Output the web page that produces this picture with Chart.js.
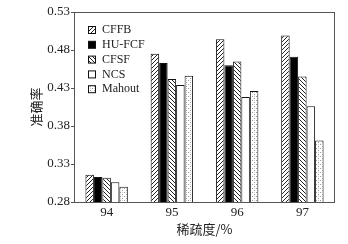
<!DOCTYPE html>
<html>
<head>
<meta charset="utf-8">
<script src="https://cdn.jsdelivr.net/npm/chart.js@4"></script>
<style>
  html, body { margin: 0; padding: 0; background: #fff; }
  #wrap { width: 348px; height: 244px; }
</style>
</head>
<body>
<div id="wrap"><canvas id="chart" width="348" height="244"></canvas></div>
<script>
const categories = ['94', '95', '96', '97'];
const seriesNames = ['CFFB', 'HU-FCF', 'CFSF', 'NCS', 'Mahout'];
const cffb = [0.316, 0.475, 0.494, 0.499];
const hufcf = [0.313, 0.463, 0.460, 0.471];
const cfsf = [0.312, 0.442, 0.465, 0.445];
const ncs = [0.306, 0.434, 0.418, 0.406];
const mahout = [0.300, 0.446, 0.426, 0.361];
const yTicks = [0.28, 0.33, 0.38, 0.43, 0.48, 0.53];

const serif = '"Liberation Serif", "DejaVu Serif", serif';
const cjk = '"Noto Sans CJK SC", sans-serif';

// small tile patterns for the bar fills
function makePattern(draw, size) {
    const c = document.createElement('canvas');
    c.width = size; c.height = size;
    const g = c.getContext('2d');
    g.fillStyle = '#fff';
    g.fillRect(0, 0, size, size);
    draw(g, size);
    return document.getElementById('chart').getContext('2d').createPattern(c, 'repeat');
}

function hatch(dir) {
    return makePattern((g, s) => {
        g.strokeStyle = '#222';
        g.lineWidth = 1;
        g.beginPath();
        for (let k = -1; k <= 1; k++) {
            if (dir > 0) {
                g.moveTo(k * s, s);
                g.lineTo(k * s + s, 0);
            } else {
                g.moveTo(k * s, 0);
                g.lineTo(k * s + s, s);
            }
        }
        g.stroke();
    }, 4);
}

const dots = makePattern((g) => {
    g.fillStyle = '#9a9a9a';
    g.fillRect(0, 0, 1, 1);
    g.fillRect(2, 2, 1, 1);
    g.fillStyle = '#d0d0d0';
    g.fillRect(2, 0, 1, 1);
}, 4);

const fills = [hatch(1), '#000', hatch(-1), '#fff', dots];
const values = [cffb, hufcf, cfsf, ncs, mahout];

const datasets = seriesNames.map((name, i) => ({
    label: name,
    data: values[i],
    backgroundColor: fills[i],
    borderColor: '#111',
    borderWidth: 1,
    barPercentage: 1,
    categoryPercentage: 0.65
}));

// frame, legend inside the plot and the rotated y title
const extras = {
    id: 'extras',
    afterDraw(chart) {
        const { ctx, chartArea: a } = chart;
        ctx.save();
        ctx.strokeStyle = '#555';
        ctx.lineWidth = 1;
        ctx.strokeRect(a.left + 0.5, a.top + 0.5, a.right - a.left - 1, a.bottom - a.top);

        ctx.font = '12px ' + serif;
        ctx.textBaseline = 'middle';
        chart.data.datasets.forEach((ds, i) => {
            const y = a.top + 18 + i * 14.8;
            const x = a.left + 14;
            ctx.fillStyle = ds.backgroundColor;
            ctx.fillRect(x, y - 3.5, 7, 7);
            ctx.strokeStyle = '#111';
            ctx.strokeRect(x + 0.5, y - 3.5, 7, 7);
            ctx.fillStyle = '#222';
            ctx.fillText(ds.label, a.left + 28, y);
        });

        ctx.translate(36, (a.top + a.bottom) / 2);
        ctx.rotate(-Math.PI / 2);
        ctx.font = '13px ' + cjk;
        ctx.textAlign = 'center';
        ctx.fillStyle = '#222';
        ctx.fillText('准确率', 0, 0);
        ctx.restore();
    }
};

new Chart(document.getElementById('chart'), {
    type: 'bar',
    data: { labels: categories, datasets: datasets },
    options: {
        responsive: false,
        animation: false,
        layout: { padding: { top: 12, right: 13, left: 0, bottom: 0 } },
        plugins: { legend: { display: false }, tooltip: { enabled: false } },
        scales: {
            x: {
                grid: { display: false, drawTicks: false },
                border: { display: false },
                ticks: { color: '#222', font: { family: serif, size: 13 }, padding: 3 },
                title: {
                    display: true, text: '稀疏度/%', color: '#222',
                    font: { family: cjk, size: 13 }, padding: { top: 0, bottom: 7 }
                },
                afterFit: s => { s.height = 42; }
            },
            y: {
                min: 0.28, max: 0.53,
                afterBuildTicks: s => { s.ticks = yTicks.map(v => ({ value: v })); },
                grid: { drawOnChartArea: false, drawTicks: true, tickLength: 3, color: '#555' },
                border: { display: false },
                ticks: {
                    color: '#222', font: { family: serif, size: 13 }, padding: 1,
                    callback: v => v.toFixed(2)
                },
                afterFit: s => { s.width = 74; }
            }
        }
    },
    plugins: [extras]
});
</script>
</body>
</html>
